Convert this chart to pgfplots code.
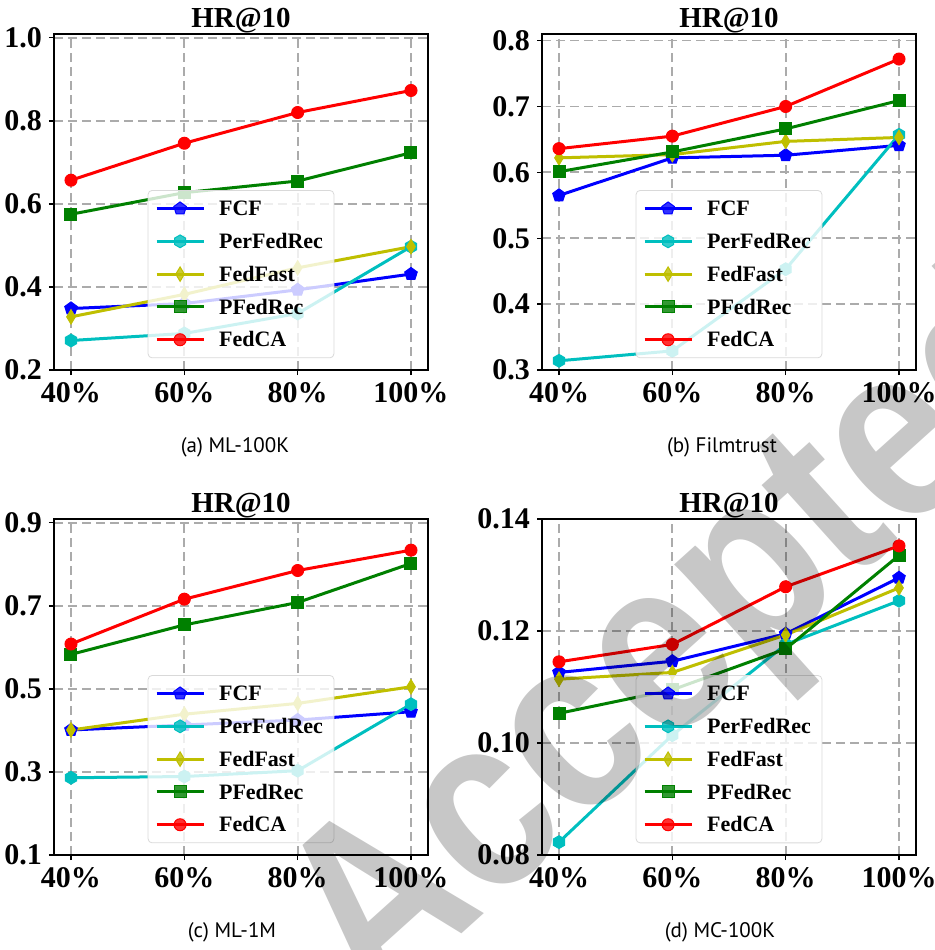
\documentclass[border=0pt]{standalone}
\usepackage{fontspec}
\setmainfont{Liberation Serif}
\newfontfamily\capfont{PT Sans}
\newfontfamily\wmfont{Liberation Sans}
\usepackage{pgfplots}
\pgfplotsset{compat=1.18}
\usetikzlibrary{plotmarks}

\definecolor{mplblue}{HTML}{0000FF}
\definecolor{mplcyan}{HTML}{00BFBF}
\definecolor{mplyellow}{HTML}{BFBF00}
\definecolor{mplgreen}{HTML}{008000}
\definecolor{mplred}{HTML}{FF0000}

% matplotlib-like hexagon marker
\pgfdeclareplotmark{hexagon*}{%
  \pgfpathmoveto{\pgfqpointpolar{90}{\pgfplotmarksize}}%
  \pgfpathlineto{\pgfqpointpolar{150}{\pgfplotmarksize}}%
  \pgfpathlineto{\pgfqpointpolar{210}{\pgfplotmarksize}}%
  \pgfpathlineto{\pgfqpointpolar{270}{\pgfplotmarksize}}%
  \pgfpathlineto{\pgfqpointpolar{330}{\pgfplotmarksize}}%
  \pgfpathlineto{\pgfqpointpolar{30}{\pgfplotmarksize}}%
  \pgfpathclose
  \pgfusepathqfillstroke}

\pgfplotsset{
  hrpanel/.style={
    width=187pt, height=168pt, scale only axis,
    xmin=-0.15, xmax=3.15,
    xtick={0,1,2,3}, xticklabels={40\%,60\%,80\%,100\%},
    title={HR@10},
    title style={font=\bfseries\fontsize{14.5}{14.5}\selectfont, at={(0.5,1)}, anchor=base, yshift=-2.5pt},
    tick label style={font=\bfseries\fontsize{15}{15}\selectfont},
    /pgf/number format/assume math mode=true,
    grid=major,
    major grid style={black!33, line width=0.9pt, dash pattern=on 4.5pt off 2.5pt},
    axis line style={line width=0.7pt},
    tick align=outside, major tick length=2.5pt,
    xtick pos=bottom, ytick pos=left,
    tick style={black, line width=0.7pt},
    clip=false,
    legend style={at={(0.5,0.035)}, anchor=south, draw=black!15,
      rounded corners=2pt, fill=white, fill opacity=0.8, text opacity=1,
      font=\bfseries\fontsize{11}{11}\selectfont,
      nodes={text height=7.6pt, text depth=0.5pt, inner sep=2pt},
      row sep=4.3pt, column sep=5pt, inner xsep=3.5pt, inner ysep=3pt},
    legend cell align=left,
    legend image code/.code={\draw[mark repeat=2, mark phase=2]
      plot coordinates {(0pt,0pt) (11.75pt,0pt) (23.5pt,0pt)};},
    every axis plot/.append style={line width=1.5pt},
  },
  fcf/.style={mplblue, mark=pentagon*, mark size=3.3pt, mark options={solid, line width=0.5pt}},
  pfr/.style={mplcyan, mark=hexagon*, mark size=3.2pt, mark options={solid, line width=0.5pt}},
  ffa/.style={mplyellow, mark=diamond*, mark size=3.6pt, mark options={solid, line width=0.5pt, xscale=0.8}},
  pfd/.style={mplgreen, mark=square*, mark size=3pt, mark options={solid, line width=0.5pt}},
  fca/.style={mplred, mark=*, mark size=3pt, mark options={solid, line width=0.5pt}},
}

\begin{document}
\begin{tikzpicture}
\useasboundingbox (0,0) rectangle (467.5pt,-475pt);

% (a) ML-100K
\begin{axis}[hrpanel, at={(27pt,-17pt)}, anchor=north west,
  ymin=0.2, ymax=1.009, ytick={0.2,0.4,0.6,0.8,1.0},
  yticklabel style={/pgf/number format/.cd, fixed, fixed zerofill, precision=1}]
\addplot[fcf] coordinates {(0,0.348) (1,0.360) (2,0.393) (3,0.431)};
\addplot[pfr] coordinates {(0,0.271) (1,0.288) (2,0.336) (3,0.497)};
\addplot[ffa] coordinates {(0,0.328) (1,0.382) (2,0.446) (3,0.497)};
\addplot[pfd] coordinates {(0,0.575) (1,0.627) (2,0.655) (3,0.723)};
\addplot[fca] coordinates {(0,0.657) (1,0.746) (2,0.820) (3,0.873)};
\legend{FCF, PerFedRec, FedFast, PFedRec, FedCA}
\end{axis}

% (b) Filmtrust
\begin{axis}[hrpanel, at={(271pt,-17pt)}, anchor=north west,
  ymin=0.3, ymax=0.810, ytick={0.3,0.4,0.5,0.6,0.7,0.8},
  yticklabel style={/pgf/number format/.cd, fixed, fixed zerofill, precision=1}]
\addplot[fcf] coordinates {(0,0.565) (1,0.622) (2,0.626) (3,0.641)};
\addplot[pfr] coordinates {(0,0.314) (1,0.329) (2,0.453) (3,0.657)};
\addplot[ffa] coordinates {(0,0.622) (1,0.627) (2,0.647) (3,0.653)};
\addplot[pfd] coordinates {(0,0.601) (1,0.631) (2,0.666) (3,0.709)};
\addplot[fca] coordinates {(0,0.636) (1,0.655) (2,0.700) (3,0.772)};
\legend{FCF, PerFedRec, FedFast, PFedRec, FedCA}
\end{axis}

% (c) ML-1M
\begin{axis}[hrpanel, at={(27pt,-259.5pt)}, anchor=north west,
  ymin=0.1, ymax=0.909, ytick={0.1,0.3,0.5,0.7,0.9},
  yticklabel style={/pgf/number format/.cd, fixed, fixed zerofill, precision=1}]
\addplot[fcf] coordinates {(0,0.401) (1,0.413) (2,0.425) (3,0.445)};
\addplot[pfr] coordinates {(0,0.286) (1,0.289) (2,0.303) (3,0.463)};
\addplot[ffa] coordinates {(0,0.401) (1,0.439) (2,0.465) (3,0.505)};
\addplot[pfd] coordinates {(0,0.583) (1,0.654) (2,0.708) (3,0.802)};
\addplot[fca] coordinates {(0,0.608) (1,0.716) (2,0.785) (3,0.834)};
\legend{FCF, PerFedRec, FedFast, PFedRec, FedCA}
\end{axis}

% (d) MC-100K
\begin{axis}[hrpanel, at={(271pt,-259.5pt)}, anchor=north west,
  ymin=0.08, ymax=0.14, ytick={0.08,0.10,0.12,0.14},
  yticklabel style={/pgf/number format/.cd, fixed, fixed zerofill, precision=2}]
\addplot[fcf] coordinates {(0,0.1126) (1,0.1146) (2,0.1195) (3,0.1295)};
\addplot[pfr] coordinates {(0,0.0823) (1,0.1014) (2,0.1176) (3,0.1254)};
\addplot[ffa] coordinates {(0,0.1114) (1,0.1126) (2,0.1193) (3,0.1277)};
\addplot[pfd] coordinates {(0,0.1053) (1,0.1095) (2,0.1168) (3,0.1335)};
\addplot[fca] coordinates {(0,0.1145) (1,0.1176) (2,0.1279) (3,0.1352)};
\legend{FCF, PerFedRec, FedFast, PFedRec, FedCA}
\end{axis}

% sub-captions
\node[font=\capfont\fontsize{10.5}{10.5}\selectfont] at (117.5pt,-223.5pt) {(a) ML-100K};
\node[font=\capfont\fontsize{10.5}{10.5}\selectfont] at (361pt,-223.5pt) {(b) Filmtrust};
\node[font=\capfont\fontsize{10.5}{10.5}\selectfont] at (116pt,-466pt) {(c) ML-1M};
\node[font=\capfont\fontsize{10.5}{10.5}\selectfont] at (360pt,-466pt) {(d) MC-100K};

% "Accepted" watermark laid over the figure
\begin{scope}[blend mode=multiply]
\node[font=\wmfont\bfseries\fontsize{125}{125}\selectfont, text=black!22,
  rotate=42, xscale=0.85, inner sep=0pt]
  at (343.5pt,-322pt) {Accepted};
\end{scope}
\end{tikzpicture}
\end{document}
